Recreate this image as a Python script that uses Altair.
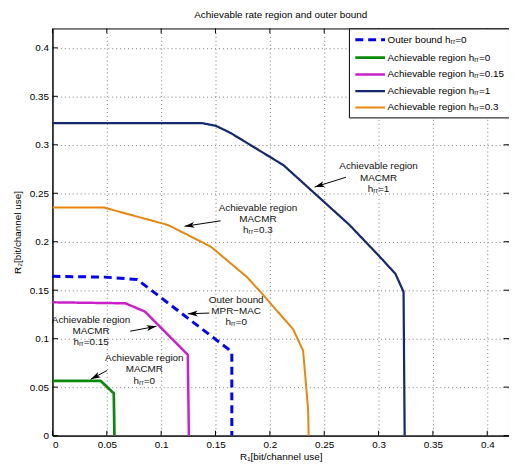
import math
import altair as alt
import pandas as pd

# ---------------- data ----------------
series_names = [
    "Outer bound hᵣᵣ=0",
    "Achievable region hᵣᵣ=0",
    "Achievable region hᵣᵣ=0.15",
    "Achievable region hᵣᵣ=1",
    "Achievable region hᵣᵣ=0.3",
]
outer_x = [0.0, 0.048, 0.078, 0.1615, 0.165, 0.165]
outer_y = [0.1643, 0.1635, 0.161, 0.0895, 0.085, 0.0]
ach0_x = [0.0, 0.0443, 0.0564, 0.057]
ach0_y = [0.0565, 0.0565, 0.0436, 0.0]
ach015_x = [0.0, 0.067, 0.085, 0.1245, 0.1255]
ach015_y = [0.1375, 0.1365, 0.128, 0.0834, 0.0]
ach1_x = [0.0, 0.138, 0.1503, 0.1639, 0.2125, 0.273, 0.3003, 0.3155, 0.323, 0.324]
ach1_y = [0.3223, 0.3223, 0.3196, 0.3122, 0.279, 0.2176, 0.1855, 0.1669, 0.1483, 0.0]
ach03_x = [0.0, 0.0473, 0.1064, 0.1457, 0.179, 0.1927, 0.2215, 0.2306, 0.2352, 0.2357]
ach03_y = [0.2353, 0.2353, 0.2172, 0.1949, 0.1635, 0.1466, 0.1095, 0.0875, 0.0267, 0.0]

tick_values = [0.0, 0.05, 0.1, 0.15, 0.2, 0.25, 0.3, 0.35, 0.4]

# annotation texts (three lines each) and anchor positions in data units
ann_lines = [
    ["Achievable region", "MACMR", "hᵣᵣ=1"],
    ["Achievable region", "MACMR", "hᵣᵣ=0.3"],
    ["Outer bound", "MPR−MAC", "hᵣᵣ=0"],
    ["Achievable region", "MACMR", "hᵣᵣ=0.15"],
    ["Achievable region", "MACMR", "hᵣᵣ=0"],
]
ann_x = [0.300, 0.189, 0.169, 0.0355, 0.0845]
ann_y = [0.2777, 0.2351, 0.1399, 0.1196, 0.0798]
ann_step = 0.0116

arrow_tail_x = [0.270, 0.1548, 0.1443, 0.0715, 0.0503]
arrow_tail_y = [0.2665, 0.2216, 0.1264, 0.1077, 0.0672]
arrow_head_x = [0.2412, 0.1215, 0.1245, 0.0957, 0.0352]
arrow_head_y = [0.2564, 0.2159, 0.1257, 0.1128, 0.0581]

# ---------------- styles ----------------
colors = ["#0000ff", "#0a8a0a", "#cc1fcc", "#14296e", "#e8850a"]
dashes = [[8, 5], [1, 0], [1, 0], [1, 0], [1, 0]]
widths = [3, 2, 2, 2, 2]
FONT = "Liberation Sans"
W, H = 462, 412
XMAX, YMAX = 0.42, 0.42

# ---------------- tables ----------------
rows = []
for name, xs_, ys_ in zip(series_names,
                          [outer_x, ach0_x, ach015_x, ach1_x, ach03_x],
                          [outer_y, ach0_y, ach015_y, ach1_y, ach03_y]):
    for i, (a, b) in enumerate(zip(xs_, ys_)):
        rows.append({"series": name, "idx": i, "x": a, "y": b})
df = pd.DataFrame(rows)

ann_rows = []
for lines_, ax, ay in zip(ann_lines, ann_x, ann_y):
    for k, t in enumerate(lines_):
        ann_rows.append({"x": ax, "y": ay - k * ann_step, "text": t})
ann_df = pd.DataFrame(ann_rows)

arr_rows = []
for tx, ty, hx, hy in zip(arrow_tail_x, arrow_tail_y, arrow_head_x, arrow_head_y):
    dxp = (hx - tx) * W / XMAX
    dyp = -(hy - ty) * H / YMAX
    ang = math.degrees(math.atan2(dxp, -dyp)) % 360
    arr_rows.append({"x": tx, "y": ty, "hx": hx, "hy": hy, "angle": ang})
arr_df = pd.DataFrame(arr_rows)

ticks_df = pd.DataFrame({"v": tick_values})

xs = alt.Scale(domain=[0, XMAX], nice=False, zero=True)
ys = alt.Scale(domain=[0, YMAX], nice=False, zero=True)
xa = alt.Axis(values=tick_values, format="~g", title="R₁[bit/channel use]",
              labelPadding=4, titlePadding=2)
ya = alt.Axis(values=tick_values, format="~g", title="R₂[bit/channel use]",
              labelPadding=4, titlePadding=7)


def X(field):
    return alt.X(field, scale=xs, axis=xa, title="R₁[bit/channel use]")


def Y(field):
    return alt.Y(field, scale=ys, axis=ya, title="R₂[bit/channel use]")


lines = alt.Chart(df).mark_line(strokeJoin="round", strokeCap="butt").encode(
    x=X("x:Q"), y=Y("y:Q"),
    color=alt.Color("series:N", scale=alt.Scale(domain=series_names, range=colors), title=None),
    strokeDash=alt.StrokeDash("series:N", scale=alt.Scale(domain=series_names, range=dashes), title=None),
    strokeWidth=alt.StrokeWidth("series:N", scale=alt.Scale(domain=series_names, range=widths), title=None),
    order=alt.Order("idx:Q"),
)

tick_len = 0.005
xt_bottom = alt.Chart(ticks_df).mark_rule(color="black", strokeWidth=1).transform_calculate(
    a="0", b=str(tick_len)).encode(x=X("v:Q"), y=Y("a:Q"), y2="b:Q")
xt_top = alt.Chart(ticks_df).mark_rule(color="black", strokeWidth=1).transform_calculate(
    a=str(YMAX - tick_len), b=str(YMAX)).encode(x=X("v:Q"), y=Y("a:Q"), y2="b:Q")
yt_left = alt.Chart(ticks_df).mark_rule(color="black", strokeWidth=1).transform_calculate(
    a="0", b=str(tick_len)).encode(y=Y("v:Q"), x=X("a:Q"), x2="b:Q")
yt_right = alt.Chart(ticks_df).mark_rule(color="black", strokeWidth=1).transform_calculate(
    a=str(XMAX - tick_len), b=str(XMAX)).encode(y=Y("v:Q"), x=X("a:Q"), x2="b:Q")

texts = alt.Chart(ann_df).mark_text(font=FONT, fontSize=10, align="center", baseline="middle",
                                    color="#111111").encode(
    x=X("x:Q"), y=Y("y:Q"), text="text:N")

shafts = alt.Chart(arr_df).mark_rule(color="black", strokeWidth=1).encode(
    x=X("x:Q"), y=Y("y:Q"), x2="hx:Q", y2="hy:Q")

heads = alt.Chart(arr_df).mark_point(shape="M0,0L0.6,2L0,1.5L-0.6,2Z", filled=True, size=100,
                                     color="black", opacity=1, strokeWidth=0).encode(
    x=X("hx:Q"), y=Y("hy:Q"), angle=alt.Angle("angle:Q", scale=None))

chart = alt.layer(lines, xt_bottom, xt_top, yt_left, yt_right, shafts, heads, texts).properties(
    width=W, height=H,
    title=alt.TitleParams("Achievable rate region and outer bound", font=FONT, fontSize=10,
                          fontWeight="normal", color="black", anchor="middle", offset=8),
    autosize=alt.AutoSizeParams(type="none"),
    padding={"left": 45, "top": 18, "right": 0, "bottom": 24},
).configure_view(stroke="black", strokeWidth=1).configure_axis(
    labelFont=FONT, labelFontSize=10, labelColor="black", titleFont=FONT, titleFontSize=10,
    titleFontWeight="normal", titleColor="black", domainColor="black", tickSize=0,
    gridColor="#777777", gridDash=[1, 3], gridOpacity=1, gridWidth=1,
).configure_legend(
    orient="top-right", offset=0, padding=5, strokeColor="black", fillColor="white",
    labelFont=FONT, labelFontSize=10, labelColor="black", labelLimit=300,
    symbolType="M-1,0L5,0", symbolSize=100, symbolStrokeWidth=2, rowPadding=5, labelOffset=21,
)

chart.save("out.html", embed_options={"renderer": "svg", "actions": False})
